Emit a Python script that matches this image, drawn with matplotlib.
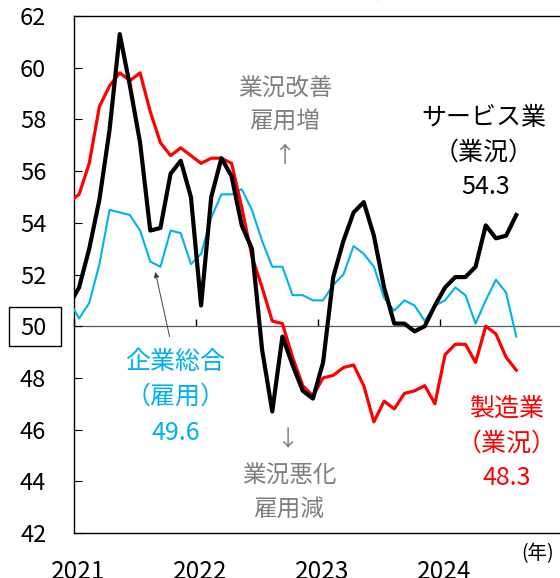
import matplotlib
matplotlib.use('Agg')
import matplotlib.pyplot as plt
import matplotlib.transforms as mtransforms
import pandas as pd
from matplotlib.patches import Rectangle

plt.rcParams['font.family'] = ['Noto Sans CJK JP', 'DejaVu Sans']

# monthly index values, Dec 2020 - Aug 2024
months = pd.date_range('2020-12-01', '2024-08-01', freq='MS')
services = [50.8,
            51.5, 53.0, 54.9, 57.6, 61.3, 59.3, 57.1, 53.7, 53.8, 55.9, 56.4, 55.0,
            50.8, 55.0, 56.5, 55.8, 53.9, 53.0, 49.1, 46.7, 49.6, 48.5, 47.5, 47.2,
            48.6, 51.9, 53.3, 54.4, 54.8, 53.5, 51.5, 50.1, 50.1, 49.8, 50.0, 50.8,
            51.5, 51.9, 51.9, 52.3, 53.9, 53.4, 53.5, 54.3]
manufacturing = [54.8,
                 55.1, 56.3, 58.5, 59.3, 59.8, 59.5, 59.8, 58.3, 57.1, 56.6, 56.9, 56.6,
                 56.3, 56.5, 56.5, 56.3, 54.6, 52.7, 51.5, 50.2, 50.1, 48.8, 47.7, 47.3,
                 48.0, 48.1, 48.4, 48.5, 47.7, 46.3, 47.1, 46.8, 47.4, 47.5, 47.7, 47.0,
                 48.9, 49.3, 49.3, 48.6, 50.0, 49.7, 48.8, 48.3]
employment = [51.0,
              50.3, 50.9, 52.4, 54.5, 54.4, 54.3, 53.7, 52.5, 52.3, 53.7, 53.6, 52.4,
              52.8, 54.2, 55.1, 55.1, 55.3, 54.5, 53.3, 52.3, 52.3, 51.2, 51.2, 51.0,
              51.0, 51.6, 52.0, 53.1, 52.8, 52.3, 51.1, 50.6, 51.0, 50.8, 50.2, 50.8,
              51.0, 51.5, 51.2, 50.1, 51.0, 51.8, 51.3, 49.6]
year_labels = ['2021', '2022', '2023', '2024']
y_ticks = list(range(42, 63, 2))

W, H = 560, 578
GRAY = '#7f7f7f'
RED = '#ff0000'
BLUE = '#00b0f0'


def fx(px):
    return px / W


def fy(py):
    return 1 - py / H


def main():
    x = (months.year - 2021) * 12 + (months.month - 1) + 0.5

    fig = plt.figure(figsize=(W / 100, H / 100), dpi=100)
    ax = fig.add_axes([74 / W, 45 / H, 488 / W, 517 / H])

    ax.plot(x, employment, color=BLUE, lw=1.5, solid_joinstyle='round', zorder=3)
    ax.plot(x, manufacturing, color=RED, lw=2.3, solid_joinstyle='round', zorder=4)
    ax.plot(x, services, color='black', lw=3.0, solid_joinstyle='round', zorder=5)

    ax.set_xlim(0, 48)
    ax.set_ylim(42, 62)

    ax.set_yticks(y_ticks, labels=[str(t) for t in y_ticks])
    ax.tick_params(axis='y', direction='in', length=6, width=0.8, labelsize=17, pad=20)
    ax.set_xticks([0, 12, 24, 36], labels=year_labels)
    ax.tick_params(axis='x', length=0, labelsize=17.5, pad=18.5)
    offset = mtransforms.ScaledTranslation(4 / 100, 0, fig.dpi_scale_trans)
    for label in ax.get_xticklabels():
        label.set_transform(label.get_transform() + offset)
    for side in ['left', 'bottom', 'top', 'right']:
        ax.spines[side].set_linewidth(1.0)
        ax.spines[side].set_color('black')

    # box around the 50 tick label
    fig.add_artist(Rectangle((fx(9), fy(346)), fx(52), 39 / H, transform=fig.transFigure,
                             fill=False, edgecolor='black', lw=1.0))

    # axis line crossing at 50 with year ticks
    line50 = ax.secondary_xaxis((50 - 42) / (62 - 42))
    line50.set_xticks([0, 12, 24, 36])
    line50.tick_params(direction='in', length=5, width=1.0, color='black', labelbottom=False)
    line50.spines['bottom'].set_color('#595959')
    line50.spines['bottom'].set_linewidth(0.9)

    ax.annotate('', xy=(8.0, 52.1), xytext=(9.4, 49.6),
                arrowprops=dict(arrowstyle='-|>', color='#404040', lw=0.7,
                                mutation_scale=8, shrinkA=0, shrinkB=0))

    fig.text(fx(310), fy(-9), '業種別指数と雇用指数', ha='center', va='center', fontsize=18)

    fig.text(fx(285), fy(88), '業況改善', ha='center', va='center', fontsize=17,
             color=GRAY, style='italic')
    fig.text(fx(285), fy(122), '雇用増', ha='center', va='center', fontsize=17,
             color=GRAY, style='italic')
    fig.text(fx(284), fy(155), '↑', ha='center', va='center', fontsize=16, color=GRAY)
    fig.text(fx(287), fy(440), '↓', ha='center', va='center', fontsize=16, color=GRAY)
    fig.text(fx(289), fy(476), '業況悪化', ha='center', va='center', fontsize=17,
             color=GRAY, style='italic')
    fig.text(fx(289), fy(510), '雇用減', ha='center', va='center', fontsize=17,
             color=GRAY, style='italic')

    fig.text(fx(484), fy(118), 'サービス業', ha='center', va='center', fontsize=18)
    fig.text(fx(484), fy(153), '（業況）', ha='center', va='center', fontsize=18)
    fig.text(fx(486), fy(187), '54.3', ha='center', va='center', fontsize=18)

    fig.text(fx(175), fy(362), '企業総合', ha='center', va='center', fontsize=18, color=BLUE)
    fig.text(fx(176), fy(397), '（雇用）', ha='center', va='center', fontsize=18, color=BLUE)
    fig.text(fx(176), fy(433), '49.6', ha='center', va='center', fontsize=18, color=BLUE)

    fig.text(fx(507), fy(409), '製造業', ha='center', va='center', fontsize=18, color=RED)
    fig.text(fx(507), fy(444), '（業況）', ha='center', va='center', fontsize=18, color=RED)
    fig.text(fx(507), fy(478), '48.3', ha='center', va='center', fontsize=18, color=RED)

    fig.text(fx(538), fy(554), '(年)', ha='center', va='center', fontsize=14)

    fig.savefig('out.png', dpi=100)
    plt.close(fig)


if __name__ == "__main__":
    main()
